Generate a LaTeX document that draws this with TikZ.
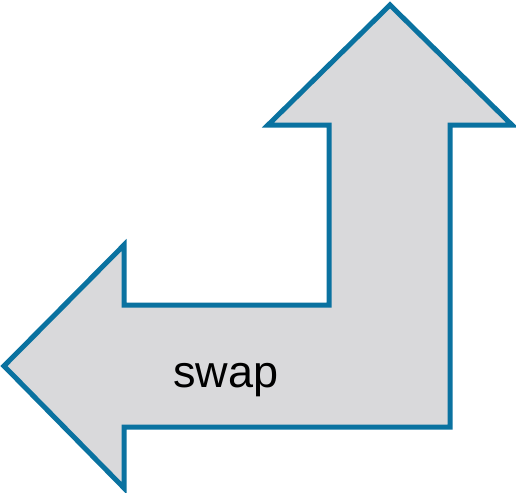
\documentclass[tikz,border=0pt]{standalone}
\usepackage{fontspec}
\setmainfont{Liberation Sans}
\definecolor{edgeblue}{HTML}{0A72A0}
\definecolor{arrowfill}{HTML}{D9D9DB}
\begin{document}
\begin{tikzpicture}[x=1pt,y=-1pt,
  bentarrow/.style={draw=edgeblue,fill=arrowfill,line width=5pt,line join=miter},
  label/.style={font=\fontsize{45}{50}\selectfont,text=black,inner sep=0pt}]
\useasboundingbox (0,0) rectangle (516,492);
% bent double arrow: up-pointing head on the right, left-pointing head at the bottom
\draw[bentarrow]
  (390,5) -- (512,125) -- (450,125) -- (450,427) -- (124,427) -- (124,488)
  -- (4,366) -- (124,245) -- (124,305) -- (329,305) -- (329,125) -- (268,125) -- cycle;
\node[label,anchor=base] (swap) at (226,387) {swap};
\end{tikzpicture}
\end{document}
